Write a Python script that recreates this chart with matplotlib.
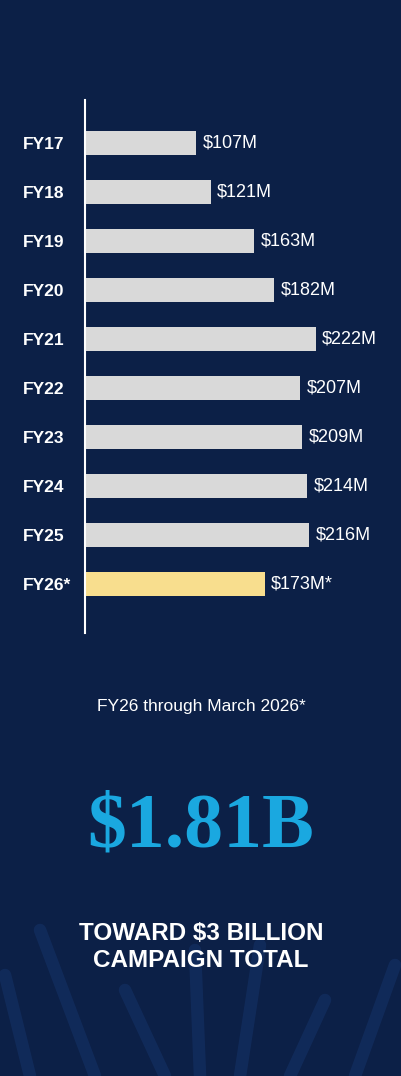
import matplotlib.pyplot as plt

# data
years = ['FY17', 'FY18', 'FY19', 'FY20', 'FY21', 'FY22', 'FY23', 'FY24', 'FY25', 'FY26*']
amounts = [107, 121, 163, 182, 222, 207, 209, 214, 216, 173]
value_labels = ['$107M', '$121M', '$163M', '$182M', '$222M', '$207M', '$209M', '$214M', '$216M', '$173M*']

bg = '#0c2047'
fig = plt.figure(figsize=(4.02, 10.76), dpi=100, facecolor=bg)

# faint decorative strokes at bottom
deco = fig.add_axes([0, 0, 1, 1], zorder=0)
deco.set_xlim(0, 402)
deco.set_ylim(1076, 0)
deco.axis('off')
strokes = [((40, 930), (95, 1076)), ((5, 975), (30, 1076)), ((125, 990), (165, 1076)),
           ((195, 950), (200, 1076)), ((260, 945), (240, 1076)), ((325, 1000), (290, 1076)),
           ((395, 965), (355, 1076))]
for (x0, y0), (x1, y1) in strokes:
    deco.plot([x0, x1], [y0, y1], color='#173770', lw=9, alpha=0.45, solid_capstyle='round')

ax = fig.add_axes([85 / 402, (1076 - 633) / 1076, 317 / 402, 533 / 1076], zorder=1)
ax.set_facecolor('none')
colors = ['#d9d9d9'] * 9 + ['#f8de8e']
ypos = list(range(len(years)))
ax.barh(ypos, amounts, height=0.49, color=colors)
for y, a, lab in zip(ypos, amounts, value_labels):
    ax.text(a + 6, y, lab, va='center', ha='left', color='white', fontsize=13,
            family='Liberation Sans')
ax.set_xlim(0, 305)
ax.set_ylim(10, -0.878)
ax.set_yticks(ypos)
ax.set_yticklabels(years, color='white', fontsize=12.5, fontweight='bold', family='Liberation Sans',
                   ha='left')
ax.tick_params(axis='y', length=0, pad=45)
ax.set_xticks([])
for s in ['top', 'right', 'bottom']:
    ax.spines[s].set_visible(False)
ax.spines['left'].set_color('white')
ax.spines['left'].set_linewidth(1.5)

fig.text(0.5, 1 - 706 / 1076, 'FY26 through March 2026*', ha='center', va='center',
         color='white', fontsize=12.5, family='Liberation Sans')
fig.text(0.5, 1 - 828 / 1076, '$1.81B', ha='center', va='center', color='#1aa8e0',
         fontsize=56, fontweight='bold', family='Liberation Serif')
fig.text(0.5, 1 - 947 / 1076, 'TOWARD $3 BILLION\nCAMPAIGN TOTAL', ha='center', va='center',
         color='white', fontsize=17.5, fontweight='bold', family='Liberation Sans', linespacing=1.25)

fig.savefig('out.png', dpi=100, facecolor=bg)
